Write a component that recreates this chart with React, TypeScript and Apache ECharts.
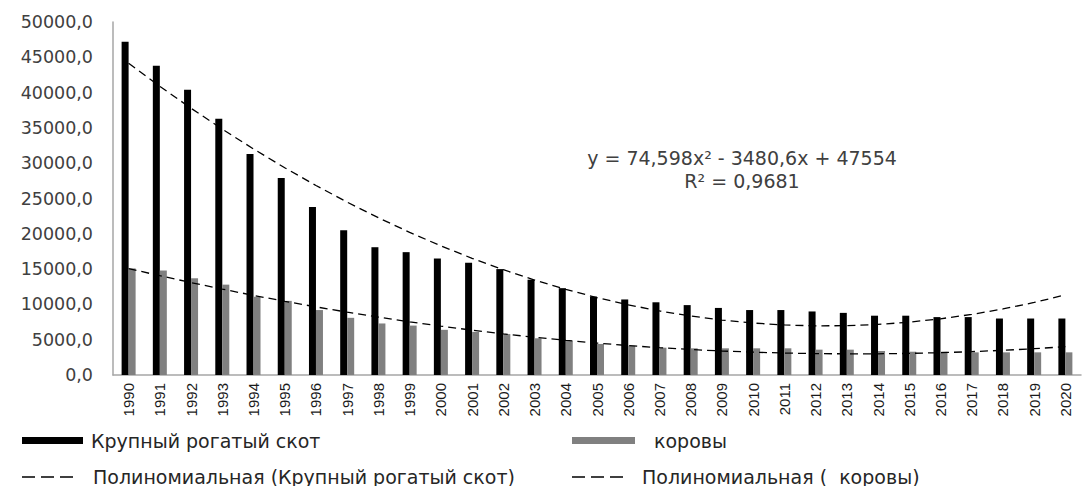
import React, { useEffect, useRef } from "react";
import * as echarts from "echarts";

const years = [
  "1990","1991","1992","1993","1994","1995","1996","1997","1998","1999",
  "2000","2001","2002","2003","2004","2005","2006","2007","2008","2009",
  "2010","2011","2012","2013","2014","2015","2016","2017","2018","2019","2020",
];

const cattle = [
  47200, 43800, 40400, 36300, 31300, 27900, 23800, 20500, 18100, 17400,
  16500, 15900, 15000, 13500, 12300, 11100, 10700, 10300, 9900, 9500,
  9200, 9200, 9000, 8800, 8400, 8400, 8200, 8200, 8000, 8000, 8000,
];

const cows = [
  15100, 14800, 13700, 12800, 11100, 10500, 9200, 8100, 7300, 7000,
  6400, 6100, 5800, 5200, 4800, 4400, 4150, 3870, 3780, 3780,
  3780, 3780, 3590, 3590, 3400, 3300, 3300, 3210, 3210, 3210, 3210,
];

// Trend equation shown on the chart for cattle
const cattleTrendCoef = [74.598, -3480.6, 47554];
const equationLines = ["y = 74,598x² - 3480,6x + 47554", "R² = 0,9681"];

const names = {
  cattle: "Крупный рогатый скот",
  cows: "коровы",
  cattleTrend: "Полиномиальная (Крупный рогатый скот)",
  cowsTrend: "Полиномиальная (  коровы)",
};

// least squares quadratic fit, x = 1..n
function quadFit(ys: number[]): number[] {
  const n = ys.length;
  let s0 = 0, s1 = 0, s2 = 0, s3 = 0, s4 = 0, t0 = 0, t1 = 0, t2 = 0;
  for (let i = 0; i < n; i++) {
    const x = i + 1;
    const y = ys[i];
    s0 += 1; s1 += x; s2 += x * x; s3 += x * x * x; s4 += x * x * x * x;
    t0 += y; t1 += x * y; t2 += x * x * y;
  }
  const M = [
    [s4, s3, s2, t2],
    [s3, s2, s1, t1],
    [s2, s1, s0, t0],
  ];
  for (let c = 0; c < 3; c++) {
    for (let r = c + 1; r < 3; r++) {
      const f = M[r][c] / M[c][c];
      for (let k = c; k < 4; k++) M[r][k] -= f * M[c][k];
    }
  }
  const sol = [0, 0, 0];
  for (let r = 2; r >= 0; r--) {
    let v = M[r][3];
    for (let k = r + 1; k < 3; k++) v -= M[r][k] * sol[k];
    sol[r] = v / M[r][r];
  }
  return sol;
}

function evalQuad(coef: number[], n: number): number[] {
  const out: number[] = [];
  for (let i = 0; i < n; i++) {
    const x = i + 1;
    out.push(coef[0] * x * x + coef[1] * x + coef[2]);
  }
  return out;
}

const FONT = "'DejaVu Sans', Verdana, sans-serif";

export default function App() {
  const ref = useRef<HTMLDivElement>(null);
  useEffect(() => {
    if (!ref.current) return;
    const chart = echarts.init(ref.current, null, { renderer: "svg" });
    const cattleTrend = evalQuad(cattleTrendCoef, years.length);
    const cowsTrend = evalQuad(quadFit(cows), years.length);

    const legendBase = {
      orient: "horizontal",
      padding: 0,
      itemGap: 10,
    };
    const legText = (padLeft: number) => ({
      fontFamily: FONT,
      fontSize: 19,
      color: "#262626",
      padding: [0, 0, 0, padLeft],
    });
    const dashKey = (x: number, y: number) => ({
      type: "line",
      shape: { x1: x, y1: y, x2: x + 52, y2: y },
      style: { stroke: "#000", lineWidth: 1.6, lineDash: [13, 6] },
      silent: true,
    });

    chart.setOption({
      animation: false,
      backgroundColor: "#ffffff",
      grid: { left: 113, right: 1, top: 22, bottom: 111, containLabel: false },
      xAxis: {
        type: "category",
        data: years,
        axisLine: { show: true, lineStyle: { color: "#a6a6a6", width: 1.5 } },
        axisTick: { show: false },
        axisLabel: {
          interval: 0,
          rotate: 90,
          margin: 8,
          fontFamily: "'Liberation Sans', Arial, sans-serif",
          fontSize: 15,
          color: "#1a1a1a",
        },
      },
      yAxis: {
        type: "value",
        min: 0,
        max: 50000,
        interval: 5000,
        axisLine: { show: true, lineStyle: { color: "#a6a6a6", width: 1.5 } },
        axisTick: { show: false },
        splitLine: { show: false },
        axisLabel: {
          margin: 20,
          fontFamily: FONT,
          fontSize: 17.5,
          color: "#404040",
          formatter: (v: number) => v.toFixed(1).replace(".", ","),
        },
      },
      legend: [
        {
          ...legendBase,
          left: 22, top: 431,
          data: [{ name: names.cattle, icon: "rect" }],
          itemWidth: 61, itemHeight: 7,
          textStyle: legText(3),
        },
        {
          ...legendBase,
          left: 572, top: 431,
          data: [{ name: names.cows, icon: "rect" }],
          itemWidth: 63, itemHeight: 7,
          textStyle: legText(14),
        },
        {
          ...legendBase,
          left: 22, top: 467,
          data: [{ name: names.cattleTrend, icon: "rect" }],
          itemWidth: 52, itemHeight: 2,
          itemStyle: { color: "rgba(0,0,0,0)", borderWidth: 0 },
          textStyle: legText(14),
        },
        {
          ...legendBase,
          left: 572, top: 467,
          data: [{ name: names.cowsTrend, icon: "rect" }],
          itemWidth: 52, itemHeight: 2,
          itemStyle: { color: "rgba(0,0,0,0)", borderWidth: 0 },
          textStyle: legText(13),
        },
      ],
      graphic: [
        {
          type: "text",
          x: 742,
          y: 146,
          style: {
            text: equationLines.join("\n"),
            fontFamily: FONT,
            fontSize: 19,
            lineHeight: 23,
            fill: "#404040",
            textAlign: "center",
          },
        },
        dashKey(22, 477),
        dashKey(572, 477),
      ],
      series: [
        {
          name: names.cattle,
          type: "bar",
          data: cattle,
          barWidth: 7,
          barGap: "0%",
          itemStyle: { color: "#000000" },
        },
        {
          name: names.cows,
          type: "bar",
          data: cows,
          barWidth: 7,
          itemStyle: { color: "#808080" },
        },
        {
          name: names.cattleTrend,
          type: "line",
          data: cattleTrend,
          symbol: "none",
          lineStyle: { color: "#000", width: 1.3, type: [8, 5] },
          itemStyle: { color: "#000" },
          z: 5,
        },
        {
          name: names.cowsTrend,
          type: "line",
          data: cowsTrend,
          symbol: "none",
          lineStyle: { color: "#000", width: 1.3, type: [8, 5] },
          itemStyle: { color: "#000" },
          z: 5,
        },
      ],
    });
    return () => chart.dispose();
  }, []);
  return (
    <div
      ref={ref}
      style={{ position: "fixed", left: 0, top: 0, width: 1082, height: 486, background: "#fff" }}
    />
  );
}
